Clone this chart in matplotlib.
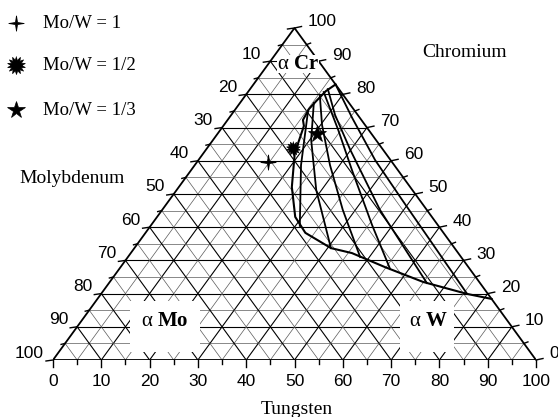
import numpy as np
import matplotlib.pyplot as plt
from matplotlib.path import Path
from matplotlib.patches import Rectangle

plt.rcParams['font.family'] = ['Liberation Serif', 'DejaVu Serif']
plt.rcParams['mathtext.fontset'] = 'custom'
plt.rcParams['mathtext.rm'] = 'Liberation Serif'
plt.rcParams['mathtext.it'] = 'Liberation Serif'
plt.rcParams['mathtext.bf'] = 'Liberation Serif:bold'

# Cr-W miscibility gap boundary, at.% W and at.% Cr (Mo is the balance)
gap_w = [17.0, 16.0, 15.5, 15.2, 15.6, 16.7, 18.9, 23.4, 28.6, 33.1, 40.7, 45.8, 54.7, 64.9, 75.8, 81.6]
gap_cr = [83.0, 81.0, 78.0, 75.6, 72.3, 70.5, 62.3, 52.1, 43.1, 38.3, 33.7, 32.2, 28.0, 23.5, 19.9, 18.4]

# tie lines, Cr-rich end first
tie_w = [[15.3, 22.0, 30.9],
         [15.3, 20.3, 28.9, 40.7],
         [15.5, 20.3, 28.0, 37.4, 48.1],
         [15.7, 24.4, 33.3, 45.7, 56.1],
         [16.1, 21.5, 29.9, 45.1, 65.8],
         [17.0, 25.5, 36.6, 48.2, 75.8]]
tie_cr = [[75.0, 58.7, 40.4],
          [77.4, 66.3, 51.2, 33.7],
          [79.5, 70.8, 58.7, 45.2, 31.0],
          [80.7, 69.3, 57.2, 40.7, 27.4],
          [81.6, 73.8, 63.3, 45.2, 23.2],
          [83.0, 72.9, 60.2, 48.2, 19.9]]

# alloys
alloy_w = [14.7, 17.8, 20.7]
alloy_cr = [59.6, 63.9, 68.0]
alloy_labels = ['Mo/W = 1', 'Mo/W = 1/2', 'Mo/W = 1/3']

tick_vals = list(range(0, 101, 10))
grid_vals = list(range(5, 100, 5))

def tern(w, cr):
    w = np.asarray(w, dtype=float)
    cr = np.asarray(cr, dtype=float)
    return w + cr / 2.0, cr

# marker shapes
sparkle = Path([(0, 1), (0.13, 0.13), (1, 0), (0.13, -0.13), (0, -1),
                (-0.13, -0.13), (-1, 0), (-0.13, 0.13), (0, 1)])
ang = np.linspace(0, 2 * np.pi, 29)[:-1] + np.pi / 2
rad = np.where(np.arange(28) % 2 == 0, 1.0, 0.6)
burst = Path(np.column_stack([rad * np.cos(ang), rad * np.sin(ang)]))
styles = [dict(marker=sparkle, ms=11, mfc='black', mec='black', mew=0.6),
          dict(marker=burst, ms=13, mfc='black', mec='black', mew=0.5),
          dict(marker='*', ms=13, mfc='black', mec='black', mew=0.5)]
plot_ms = [11, 10, 13]

W_PX, H_PX = 558, 417
fig = plt.figure(figsize=(W_PX / 100, H_PX / 100), dpi=100)
ax = fig.add_axes([53 / W_PX, 57 / H_PX, 483 / W_PX, 332 / H_PX])
ax.set_xlim(0, 100)
ax.set_ylim(0, 100)
ax.axis('off')
px = 100 / 483.0   # data units per pixel, x
py = 100 / 332.0   # data units per pixel, y

# grid
for v in grid_vals:
    major = v % 10 == 0
    kw = dict(color='black' if major else '0.35', lw=0.8 if major else 0.5, zorder=1)
    x, y = tern([0, 100 - v], [v, v])          # constant Cr
    ax.plot(x, y, **kw)
    x, y = tern([v, v], [0, 100 - v])          # constant W
    ax.plot(x, y, **kw)
    x, y = tern([0, 100 - v], [100 - v, 0])    # constant Mo
    ax.plot(x, y, **kw)

# frame
x, y = tern([0, 100, 0, 0], [0, 0, 100, 0])
ax.plot(x, y, color='black', lw=1.3, zorder=3)

tick_font = dict(family=['Liberation Sans', 'DejaVu Sans'], fontsize=12.5)
for v in range(0, 101, 5):
    major = v % 10 == 0
    L = 7 if major else 4
    # bottom: W
    x, y = tern(v, 0)
    ax.plot([x, x], [0, -L * py], color='black', lw=1.0, clip_on=False)
    # left: Mo (W = 0)
    x, y = tern(0, 100 - v)
    ax.plot([x, x - L * px], [y, y - 1 * py], color='black', lw=1.0, clip_on=False)
    # right: Cr (Mo = 0)
    x, y = tern(100 - v, v)
    ax.plot([x, x + L * px], [y, y + 1.5 * py], color='black', lw=1.0, clip_on=False)

for v in tick_vals:
    x, y = tern(v, 0)
    ax.annotate(str(v), (x, y), xytext=(0, -22), textcoords='offset pixels',
                ha='center', va='center', **tick_font)
    if v > 0:
        x, y = tern(0, 100 - v)
        ax.annotate(str(v), (x, y), xytext=(-9, 7), textcoords='offset pixels',
                    ha='right', va='center', **tick_font)
    x, y = tern(100 - v, v)
    ax.annotate(str(v), (x, y), xytext=(13, 6), textcoords='offset pixels',
                ha='left', va='center', **tick_font)

# miscibility gap and tie lines
x, y = tern(gap_w, gap_cr)
ax.plot(x, y, color='black', lw=1.5, zorder=4, solid_joinstyle='round')
for tw, tc in zip(tie_w, tie_cr):
    x, y = tern(tw, tc)
    ax.plot(x, y, color='black', lw=1.3, zorder=4, solid_joinstyle='round')

# alloy compositions
for w, cr, st, ms in zip(alloy_w, alloy_cr, styles, plot_ms):
    x, y = tern(w, cr)
    ax.plot(x, y, ls='none', zorder=5, **dict(st, ms=ms))

# overlay in pixel units: phase labels, axis names, legend
lay = fig.add_axes([0, 0, 1, 1])
lay.set_xlim(0, W_PX)
lay.set_ylim(H_PX, 0)
lay.axis('off')
lay.patch.set_alpha(0)

for (x0, y0, w, h) in [(130, 301, 70, 51), (400, 301, 54, 51), (277, 55, 42, 18)]:
    lay.add_patch(Rectangle((x0, y0), w, h, facecolor='white', edgecolor='none'))

phase_font = dict(fontsize=15, ha='center', va='center')
lay.text(165, 322, r'$\alpha$ $\mathbf{Mo}$', **phase_font)
lay.text(428, 322, r'$\alpha$ $\mathbf{W}$', **phase_font)
lay.text(298, 64, r'$\alpha$ $\mathbf{Cr}$', **phase_font)

lay.text(297, 409, 'Tungsten', fontsize=14, ha='center', va='center')
lay.text(72, 178, 'Molybdenum', fontsize=14, ha='center', va='center')
lay.text(465, 52, 'Chromium', fontsize=14, ha='center', va='center')

for yy, lab, st in zip([23, 65, 110], alloy_labels, styles):
    lay.plot(16, yy, ls='none', **st)
    lay.text(43, yy, lab, fontsize=13.5, ha='left', va='center')

fig.savefig('out.png', dpi=100, facecolor='white')
